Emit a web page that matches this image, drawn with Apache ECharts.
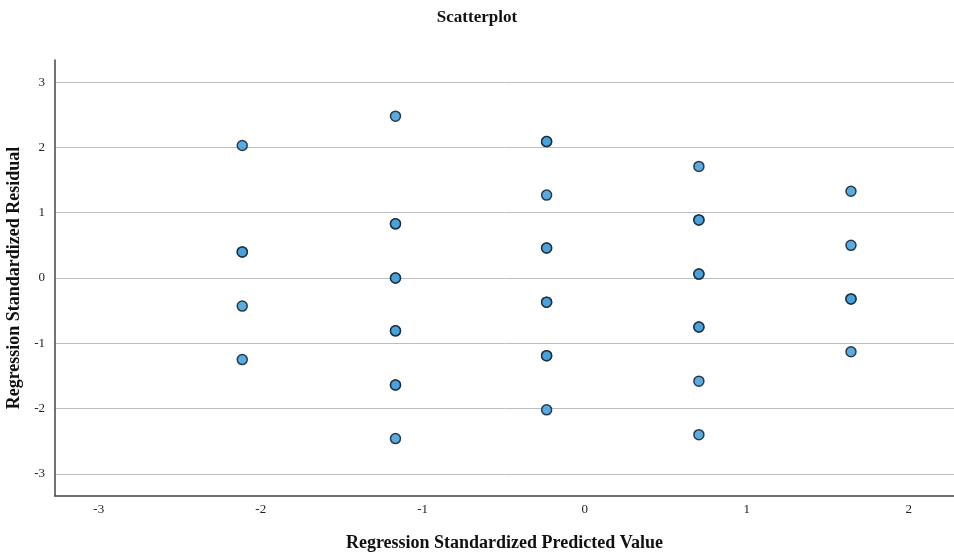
<!DOCTYPE html>
<html><head><meta charset="utf-8">
<script src="https://cdn.jsdelivr.net/npm/echarts@6/dist/echarts.min.js"></script>
<style>html,body{margin:0;padding:0;background:#fff}#c{width:954px;height:552px}</style>
</head><body><div id="c"></div>
<script>
// Predicted value (x) columns and residuals (y); duplicates mark overlapping cases
const xTicks = [-3, -2, -1, 0, 1, 2];
const yTicks = [-3, -2, -1, 0, 1, 2, 3];
const predX = [-2.114, -1.168, -0.235, 0.705, 1.644];
const col1 = [2.03, 0.40, 0.40, -0.43, -1.25];
const col2 = [2.48, 0.83, 0.83, 0.00, 0.00, -0.81, -0.81, -1.64, -1.64, -2.46];
const col3 = [2.09, 2.09, 1.27, 0.46, 0.46, -0.37, -0.37, -1.19, -1.19, -2.02];
const col4 = [1.71, 0.89, 0.89, 0.06, 0.06, -0.75, -0.75, -1.58, -2.40];
const col5 = [1.33, 0.50, -0.32, -0.32, -1.13];
const cols = [col1, col2, col3, col4, col5];

const data = [];
cols.forEach((c, i) => c.forEach(v => data.push([predX[i], v])));

const serif = '"Liberation Serif", "DejaVu Serif", serif';
const chart = echarts.init(document.getElementById('c'));
chart.setOption({
  animation: false,
  title: { text: 'Scatterplot', left: 'center', top: 4,
    textStyle: { fontFamily: serif, fontWeight: 'bold', fontSize: 17, color: '#111' } },
  grid: { left: 55, right: 0, top: 60, bottom: 56, outerBoundsMode: 'none', containLabel: false },
  xAxis: {
    type: 'value', min: -3.27, max: 2.28,
    name: 'Regression Standardized Predicted Value', nameLocation: 'middle', nameGap: 38,
    nameTextStyle: { fontFamily: serif, fontWeight: 'bold', fontSize: 18, color: '#111' },
    axisLine: { show: true, onZero: false, lineStyle: { color: '#444', width: 1.5 } },
    axisTick: { show: false, customValues: xTicks },
    axisLabel: { customValues: xTicks, color: '#222', fontFamily: serif, fontSize: 13, margin: 7 },
    splitLine: { show: false }
  },
  yAxis: {
    type: 'value', min: -3.34, max: 3.34,
    name: 'Regression Standardized Residual', nameLocation: 'middle', nameGap: 31,
    nameTextStyle: { fontFamily: serif, fontWeight: 'bold', fontSize: 18, color: '#111' },
    axisLine: { show: true, onZero: false, lineStyle: { color: '#444', width: 1.5 } },
    axisTick: { show: false, customValues: yTicks },
    axisLabel: { customValues: yTicks, color: '#222', fontFamily: serif, fontSize: 13, margin: 10 },
    splitLine: { show: true, lineStyle: { color: '#bdbdbd', width: 1 } }
  },
  series: [{
    type: 'scatter', data: data, symbolSize: 10,
    itemStyle: { color: '#48a2dc', borderColor: '#1a2b3c', borderWidth: 1.5, opacity: 0.9 }
  }]
});
</script></body></html>
